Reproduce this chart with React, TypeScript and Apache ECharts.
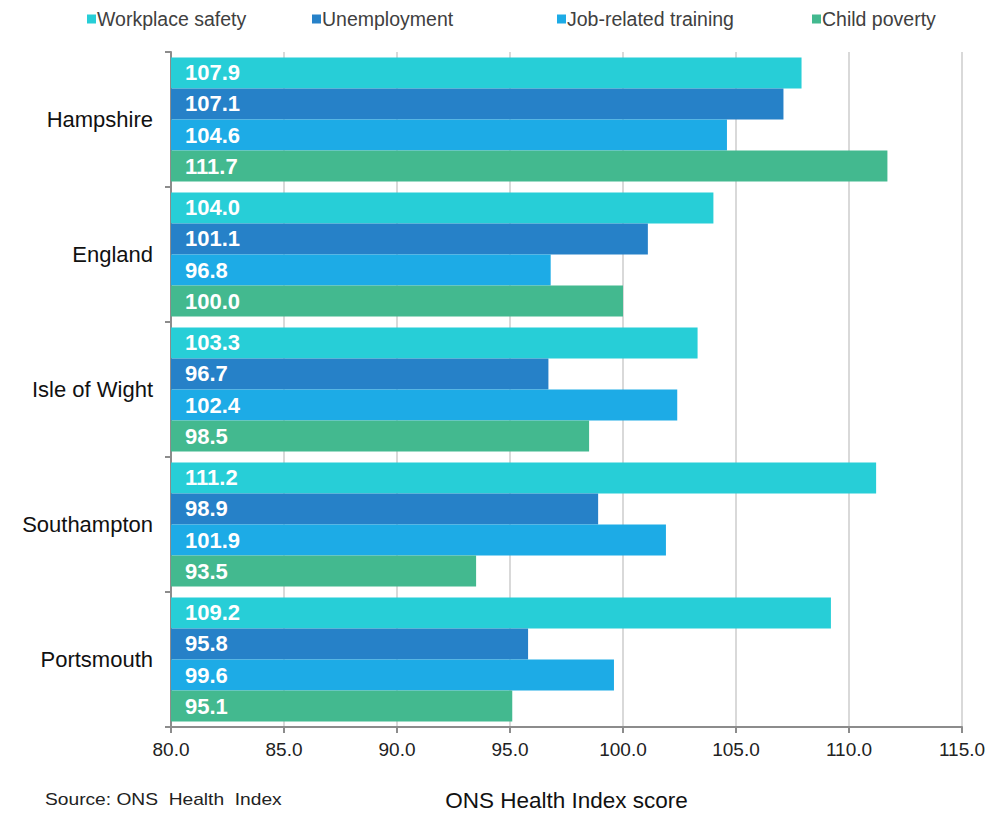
import React, { useEffect, useRef } from "react";
import * as echarts from "echarts";

const categories = ["Hampshire", "England", "Isle of Wight", "Southampton", "Portsmouth"];
const seriesNames = ["Workplace safety", "Unemployment", "Job-related training", "Child poverty"];
const workplaceSafety = [107.9, 104.0, 103.3, 111.2, 109.2];
const unemployment = [107.1, 101.1, 96.7, 98.9, 95.8];
const jobTraining = [104.6, 96.8, 102.4, 101.9, 99.6];
const childPoverty = [111.7, 100.0, 98.5, 93.5, 95.1];
const colors = ["#27CED7", "#2681C8", "#1DABE6", "#43B98F"];
const legendLefts = [82, 307, 552, 807];

export default function App() {
  const ref = useRef<HTMLDivElement>(null);
  useEffect(() => {
    const chart = echarts.init(ref.current!, null, { renderer: "svg" });
    const values = [workplaceSafety, unemployment, jobTraining, childPoverty];
    const font = "Liberation Sans, Arial, sans-serif";
    chart.setOption({
      animation: false,
      textStyle: { fontFamily: font },
      legend: seriesNames.map((n, i) => ({
        data: [n],
        left: legendLefts[i],
        top: 4,
        icon: "rect",
        itemWidth: 9,
        itemHeight: 9,
        itemGap: 0,
        textStyle: { fontSize: 19.5, color: "#404040", fontFamily: font, padding: [0, 0, 0, -4] },
      })),
      grid: { left: 171, right: 38, top: 52, bottom: 86, outerBoundsMode: "none", containLabel: false },
      xAxis: {
        type: "value",
        min: 80,
        max: 115,
        interval: 5,
        axisLine: { show: true, lineStyle: { color: "#8c8c8c", width: 2 } },
        axisTick: { show: true, length: 6, lineStyle: { color: "#8c8c8c", width: 2 } },
        axisLabel: { formatter: (v: number) => v.toFixed(1), fontSize: 19, color: "#222", margin: 13, fontFamily: font },
        splitLine: { show: true, lineStyle: { color: "#d9d9d9", width: 2 } },
        name: "ONS Health Index score",
        nameLocation: "middle",
        nameGap: 62,
        nameTextStyle: { fontSize: 22.5, color: "#111", fontFamily: font },
      },
      yAxis: {
        type: "category",
        data: categories,
        inverse: true,
        axisLine: { show: true, lineStyle: { color: "#8c8c8c", width: 2 } },
        axisTick: { show: true, length: 6, lineStyle: { color: "#8c8c8c", width: 2 } },
        axisLabel: { fontSize: 22, color: "#111", margin: 18, fontFamily: font },
      },
      graphic: [
        {
          type: "text",
          left: 45,
          top: 792,
          scaleX: 1.2,
          style: { text: "Source: ONS  Health  Index", fontSize: 16, fill: "#222", fontFamily: font },
        },
      ],
      series: seriesNames.map((n, i) => ({
        name: n,
        type: "bar",
        data: values[i],
        barGap: "0%",
        barCategoryGap: "8%",
        itemStyle: { color: colors[i] },
        label: {
          show: true,
          position: "insideLeft",
          distance: 14,
          formatter: (p: any) => p.value.toFixed(1),
          color: "#fff",
          fontWeight: "bold",
          fontSize: 22,
          fontFamily: font,
        },
      })),
    });
    return () => chart.dispose();
  }, []);
  return <div ref={ref} style={{ position: "absolute", left: 0, top: 0, width: 1000, height: 813 }} />;
}
